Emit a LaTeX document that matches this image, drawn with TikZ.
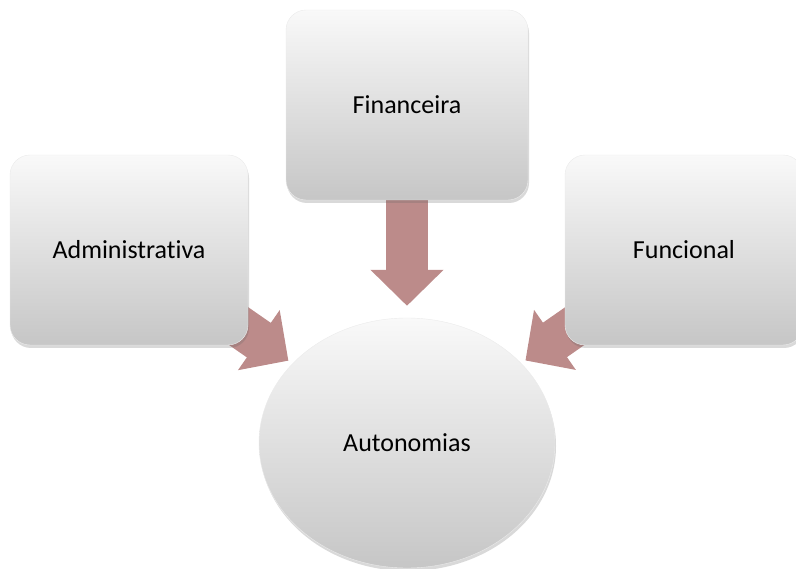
\documentclass[tikz,border=0pt]{standalone}
\usepackage{fontspec}
\setmainfont{Carlito}[Ligatures={NoCommon}]
\usetikzlibrary{shapes.geometric,arrows.meta,shadows,backgrounds}
\definecolor{cinzatopo}{RGB}{249,249,249}
\definecolor{cinzameio}{RGB}{234,234,234}
\definecolor{cinzabase}{RGB}{198,198,198}
\definecolor{rosa}{RGB}{188,139,138}
\begin{document}
\begin{tikzpicture}[x=1pt, y=-1pt, font=\fontsize{26}{31}\selectfont,
    sombra/.style = {drop shadow={shadow xshift=1pt, shadow yshift=-3pt, opacity=0.25, fill=black!60}},
    caixa/.style = {rectangle, rounded corners=20pt, minimum width=238pt, minimum height=190pt, top color=cinzatopo, middle color=cinzameio, bottom color=cinzabase, draw=black!8, sombra},
    centro/.style = {ellipse, minimum width=296pt, minimum height=250pt, inner sep=0pt, top color=cinzatopo, middle color=cinzameio, bottom color=cinzabase, draw=black!8, sombra},
    seta/.style = {draw=rosa, line width=42pt, -{Triangle[width=71pt, length=36pt]}}]
            \useasboundingbox (0,0) rectangle (796,569);
            \clip (0,0) rectangle (796,569);
            \node[centro] (aut) at (407,443) {Autonomias};
            \node[caixa] (adm) at (129,250) {Administrativa};
            \node[caixa, minimum width=242pt] (fin) at (407,105) {Financeira};
            \node[caixa] (func) at (684,250) {Funcional};
            \begin{scope}[on background layer]
            \draw[seta, shorten >=12pt] (fin.center) -- (aut);
            \draw[seta, shorten >=5pt] (adm.center) -- (aut);
            \draw[seta, shorten >=5pt] (func.center) -- (aut);
            \end{scope}
        \end{tikzpicture}
\end{document}
